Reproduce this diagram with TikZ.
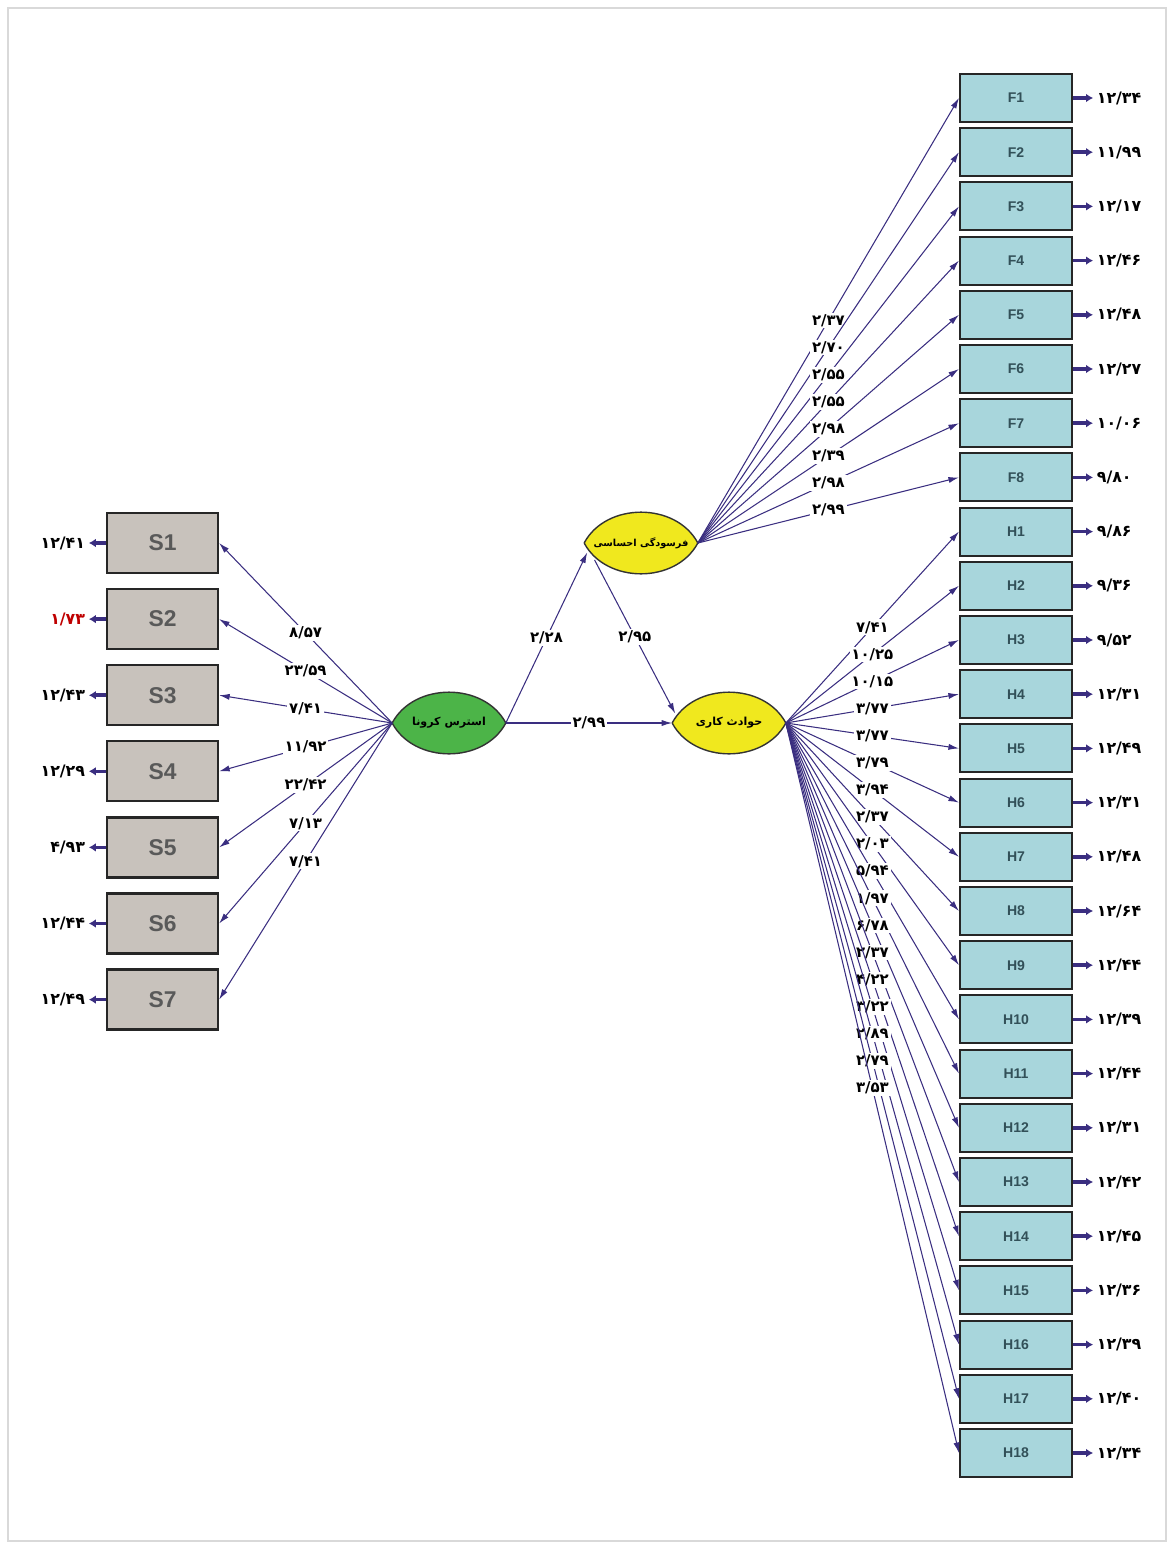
\documentclass[tikz,border=0pt]{standalone}
\usepackage{fontspec}
\newfontfamily\boxfont{Liberation Sans}
\newfontfamily\fatext[Script=Arabic]{DejaVu Sans}
\newfontfamily\fanum{DejaVu Sans}
\TeXXeTstate=1
\usetikzlibrary{shapes.geometric,arrows.meta,backgrounds}

\definecolor{pathblue}{RGB}{58,46,128}
\definecolor{sgray}{RGB}{200,194,188}
\definecolor{fteal}{RGB}{168,214,220}
\definecolor{lgreen}{RGB}{76,180,72}
\definecolor{lyellow}{RGB}{240,232,30}
\definecolor{boxtext}{RGB}{50,80,88}

\tikzset{
  sbox/.style={draw=black!85, line width=1.3pt, fill=sgray, minimum width=2.22cm,
    minimum height=1.2cm, font=\boxfont\bfseries\fontsize{13}{13}\selectfont, text=black!65},
  ibox/.style={draw=black!85, line width=1.2pt, fill=fteal, minimum width=2.24cm,
    minimum height=0.96cm, font=\boxfont\bfseries\fontsize{8}{8}\selectfont, text=boxtext},
  latent/.style={ellipse, minimum width=2.26cm, minimum height=1.16cm, inner sep=0pt},
  lattext/.style={font=\fatext\bfseries\fontsize{6.3}{6.3}\selectfont, inner sep=0pt},
  lens/.style={draw=black!80, line width=0.8pt},
  load/.style={draw=pathblue, line width=0.6pt, -{Latex[length=6pt,width=3.5pt]}},
  errline/.style={draw=pathblue, line width=2pt, -{Latex[length=4pt,width=5pt]}},
  lbl/.style={fill=white, inner sep=1pt, font=\fanum\bfseries\fontsize{8.5}{8.5}\selectfont},
  errval/.style={inner sep=2pt, font=\fanum\bfseries\fontsize{9}{9}\selectfont},
}

\begin{document}
\begin{tikzpicture}[x=0.02cm, y=-0.02cm]
\useasboundingbox (0,0) rectangle (1173,1548);
\draw[black!15, line width=0.6pt] (8,8) rectangle (1166,1541); % page frame

% latent variables
\node[latent, label={[lattext]center:\beginR استرس کرونا\endR}] (stress) at (449,723) {};
\node[latent, label={[lattext, font=\fatext\bfseries\fontsize{5.5}{5.5}\selectfont]center:\beginR فرسودگی احساسی\endR}] (fars) at (641,543) {};
\node[latent, label={[lattext]center:\beginR حوادث کاری\endR}] (haw) at (729,723) {};
\begin{scope}[on background layer]
\foreach \nd/\col in {stress/lgreen, fars/lyellow, haw/lyellow}
\draw[lens, fill=\col] (\nd.west) to[out=62,in=118,looseness=1.05] (\nd.east)
  to[out=-118,in=-62,looseness=1.05] (\nd.west);
\end{scope}

% structural paths
\draw[load] (stress.east) -- (fars.190) node[lbl, midway] (l1) {۲/۲۸};
\draw[load] (fars.200) -- (haw.170) node[lbl, midway] (l2) {۲/۹۵};
\draw[load] (stress.east) -- (haw.west) node[lbl, midway] (l3) {۲/۹۹};

% corona stress indicators
\foreach \i/\ld/\ev/\c in {1/{۸/۵۷}/{۱۲/۴۱}/black, 2/{۲۳/۵۹}/{۱/۷۳}/red!75!black,
  3/{۷/۴۱}/{۱۲/۴۳}/black, 4/{۱۱/۹۲}/{۱۲/۲۹}/black, 5/{۲۲/۴۲}/{۴/۹۳}/black,
  6/{۷/۱۳}/{۱۲/۴۴}/black, 7/{۷/۴۱}/{۱۲/۴۹}/black}{
  \node[sbox] (S\i) at (162.5,{543+76.1*(\i-1)}) {S\i};
  \draw[load] (stress.west) -- (S\i.east) node[lbl, midway] (ls\i) {\ld};
  \path (S\i.west) ++(-17,0) coordinate (eS\i);
  \draw[errline] (S\i.west) -- (eS\i);
  \node[errval, anchor=east, text=\c] (vS\i) at (eS\i) {\ev};
}

% emotional exhaustion indicators
\foreach \lab/\ld/\ev [count=\k] in {F1/{۲/۳۷}/{۱۲/۳۴}, F2/{۲/۷۰}/{۱۱/۹۹},
  F3/{۲/۵۵}/{۱۲/۱۷}, F4/{۲/۵۵}/{۱۲/۴۶}, F5/{۲/۹۸}/{۱۲/۴۸}, F6/{۲/۳۹}/{۱۲/۲۷},
  F7/{۲/۹۸}/{۱۰/۰۶}, F8/{۲/۹۹}/{۹/۸۰}}{
  \node[ibox] (\lab) at (1016,{98+54.2*(\k-1)}) {\lab};
  \draw[load] (fars.east) -- (\lab.west) node[lbl, midway] (l\lab) {\ld};
  \path (\lab.east) ++(20,0) coordinate (e\lab);
  \draw[errline] (\lab.east) -- (e\lab);
  \node[errval, anchor=west] (v\lab) at (e\lab) {\ev};
}

% work accident indicators
\foreach \lab/\ld/\ev [count=\k from 9] in {H1/{۷/۴۱}/{۹/۸۶}, H2/{۱۰/۲۵}/{۹/۳۶},
  H3/{۱۰/۱۵}/{۹/۵۲}, H4/{۳/۷۷}/{۱۲/۳۱}, H5/{۳/۷۷}/{۱۲/۴۹}, H6/{۳/۷۹}/{۱۲/۳۱},
  H7/{۳/۹۴}/{۱۲/۴۸}, H8/{۲/۳۷}/{۱۲/۶۴}, H9/{۲/۰۳}/{۱۲/۴۴}, H10/{۵/۹۴}/{۱۲/۳۹},
  H11/{۱/۹۷}/{۱۲/۴۴}, H12/{۶/۷۸}/{۱۲/۳۱}, H13/{۲/۳۷}/{۱۲/۴۲}, H14/{۴/۲۲}/{۱۲/۴۵},
  H15/{۳/۲۲}/{۱۲/۳۶}, H16/{۲/۸۹}/{۱۲/۳۹}, H17/{۲/۷۹}/{۱۲/۴۰}, H18/{۳/۵۳}/{۱۲/۳۴}}{
  \node[ibox] (\lab) at (1016,{98+54.2*(\k-1)}) {\lab};
  \draw[load] (haw.east) -- (\lab.west) node[lbl, midway] (l\lab) {\ld};
  \path (\lab.east) ++(20,0) coordinate (e\lab);
  \draw[errline] (\lab.east) -- (e\lab);
  \node[errval, anchor=west] (v\lab) at (e\lab) {\ev};
}
\end{tikzpicture}
\end{document}
